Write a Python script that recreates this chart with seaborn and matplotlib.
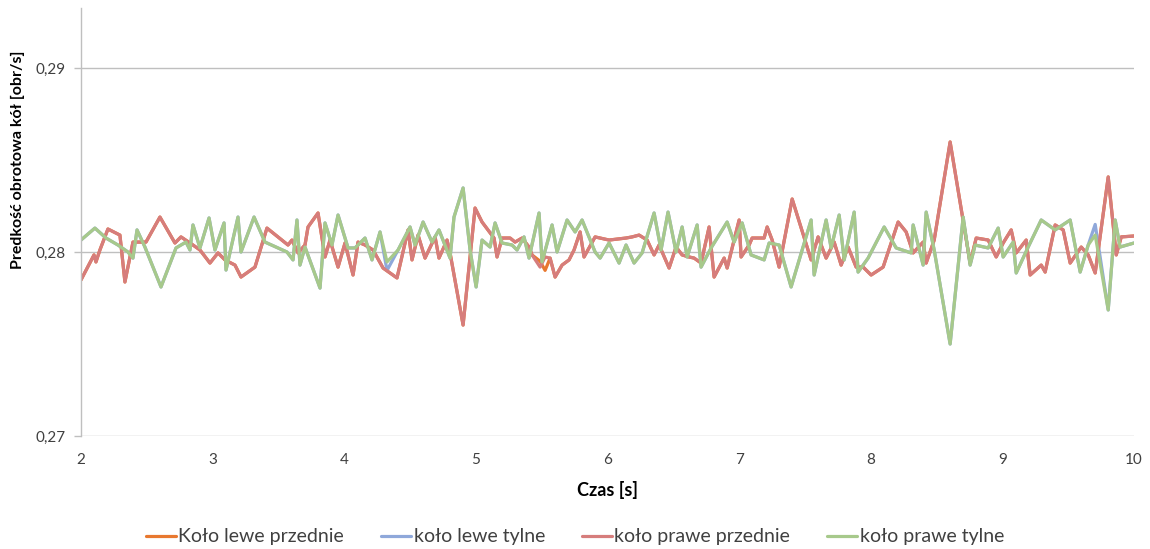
import numpy as np
import pandas as pd
import matplotlib
matplotlib.use("Agg")
import matplotlib.pyplot as plt
from matplotlib.ticker import FuncFormatter, FixedLocator
from matplotlib.lines import Line2D
import seaborn as sns

# Wheel rotational speed [obr/s] against time [s]
czas_przod = [2.000, 2.099, 2.114, 2.144, 2.205, 2.296, 2.334, 2.395, 2.494, 2.600,
              2.714, 2.760, 2.851, 2.904, 2.980, 3.041, 3.094, 3.170, 3.216, 3.322,
              3.413, 3.573, 3.603, 3.649, 3.702, 3.725, 3.801, 3.854, 3.892, 3.953,
              4.006, 4.067, 4.105, 4.158, 4.219, 4.295, 4.401, 4.485, 4.515, 4.561,
              4.614, 4.690, 4.720, 4.781, 4.804, 4.903, 4.994, 5.047, 5.138, 5.161,
              5.199, 5.260, 5.298, 5.351, 5.404, 5.427, 5.488, 5.526, 5.564, 5.602,
              5.655, 5.708, 5.746, 5.792, 5.822, 5.906, 6.012, 6.141, 6.187, 6.240,
              6.301, 6.354, 6.392, 6.468, 6.521, 6.567, 6.620, 6.658, 6.711, 6.772,
              6.810, 6.886, 6.909, 7.000, 7.015, 7.076, 7.099, 7.190, 7.213, 7.251,
              7.304, 7.403, 7.547, 7.600, 7.661, 7.722, 7.775, 7.828, 7.889, 7.942,
              8.003, 8.094, 8.208, 8.269, 8.322, 8.398, 8.421, 8.482, 8.603, 8.755,
              8.801, 8.892, 8.953, 9.006, 9.067, 9.105, 9.181, 9.211, 9.295, 9.325,
              9.401, 9.462, 9.515, 9.599, 9.652, 9.705, 9.804, 9.865, 9.903, 10.000]

prawe_przednie = [0.27848, 0.27984, 0.27946, 0.28011, 0.28125, 0.28092, 0.27837, 0.28054, 0.28054, 0.28190,
                  0.28049, 0.28082, 0.28038, 0.28011, 0.27940, 0.27995, 0.27957, 0.27929, 0.27864, 0.27918,
                  0.28130, 0.28038, 0.28065, 0.27995, 0.28038, 0.28136, 0.28212, 0.27973, 0.28065, 0.27918,
                  0.28049, 0.27875, 0.28054, 0.28038, 0.28011, 0.27913, 0.27859, 0.28120, 0.27957, 0.28092,
                  0.27967, 0.28082, 0.27967, 0.28065, 0.27995, 0.27603, 0.28239, 0.28163, 0.28076, 0.27973,
                  0.28076, 0.28076, 0.28054, 0.28076, 0.28027, 0.27984, 0.27918, 0.27973, 0.27967, 0.27864,
                  0.27929, 0.27957, 0.28011, 0.28109, 0.27973, 0.28082, 0.28065, 0.28076, 0.28082, 0.28092,
                  0.28065, 0.27984, 0.28038, 0.27913, 0.28027, 0.27984, 0.27973, 0.27967, 0.27940, 0.28136,
                  0.27864, 0.27967, 0.27913, 0.28174, 0.27973, 0.28038, 0.28076, 0.28076, 0.28136, 0.28065,
                  0.27918, 0.28288, 0.27957, 0.28082, 0.27967, 0.28054, 0.27929, 0.28027, 0.27918, 0.27918,
                  0.27875, 0.27918, 0.28163, 0.28109, 0.27995, 0.28054, 0.27940, 0.28065, 0.28598, 0.27940,
                  0.28076, 0.28065, 0.27973, 0.28049, 0.28120, 0.27995, 0.28065, 0.27875, 0.27929, 0.27891,
                  0.28147, 0.28120, 0.27940, 0.28027, 0.27984, 0.27886, 0.28408, 0.27984, 0.28082, 0.28087]

lewe_przednie = [0.27848, 0.27984, 0.27946, 0.28011, 0.28125, 0.28092, 0.27837, 0.28054, 0.28054, 0.28190,
                 0.28049, 0.28082, 0.28038, 0.28011, 0.27940, 0.27995, 0.27957, 0.27929, 0.27864, 0.27918,
                 0.28130, 0.28038, 0.28065, 0.27995, 0.28038, 0.28136, 0.28212, 0.27973, 0.28065, 0.27918,
                 0.28049, 0.27875, 0.28054, 0.28038, 0.28011, 0.27913, 0.27859, 0.28120, 0.27957, 0.28092,
                 0.27967, 0.28082, 0.27967, 0.28065, 0.27995, 0.27603, 0.28239, 0.28163, 0.28076, 0.27973,
                 0.28076, 0.28076, 0.28054, 0.28076, 0.28027, 0.27984, 0.27950, 0.27900, 0.27967, 0.27864,
                 0.27929, 0.27957, 0.28011, 0.28109, 0.27973, 0.28082, 0.28065, 0.28076, 0.28082, 0.28092,
                 0.28065, 0.27984, 0.28038, 0.27913, 0.28027, 0.27984, 0.27973, 0.27967, 0.27940, 0.28136,
                 0.27864, 0.27967, 0.27913, 0.28174, 0.27973, 0.28038, 0.28076, 0.28076, 0.28136, 0.28065,
                 0.27918, 0.28288, 0.27957, 0.28082, 0.27967, 0.28054, 0.27929, 0.28027, 0.27918, 0.27918,
                 0.27875, 0.27918, 0.28163, 0.28109, 0.27995, 0.28054, 0.27940, 0.28065, 0.28598, 0.27940,
                 0.28076, 0.28065, 0.27973, 0.28049, 0.28120, 0.27995, 0.28065, 0.27875, 0.27929, 0.27891,
                 0.28147, 0.28120, 0.27940, 0.28027, 0.27984, 0.27886, 0.28408, 0.27984, 0.28082, 0.28087]

czas_tyl = [2.000, 2.106, 2.190, 2.281, 2.357, 2.395, 2.426, 2.486, 2.608, 2.722,
            2.798, 2.828, 2.851, 2.904, 2.973, 3.018, 3.087, 3.102, 3.193, 3.216,
            3.315, 3.398, 3.565, 3.611, 3.641, 3.664, 3.702, 3.816, 3.854, 3.907,
            3.953, 4.029, 4.082, 4.158, 4.211, 4.272, 4.325, 4.409, 4.500, 4.538,
            4.599, 4.667, 4.720, 4.804, 4.834, 4.903, 4.956, 5.002, 5.047, 5.108,
            5.146, 5.199, 5.275, 5.313, 5.366, 5.404, 5.480, 5.503, 5.579, 5.617,
            5.693, 5.754, 5.807, 5.906, 5.944, 6.012, 6.088, 6.141, 6.202, 6.263,
            6.354, 6.407, 6.460, 6.521, 6.567, 6.605, 6.681, 6.711, 6.787, 6.909,
            6.962, 7.023, 7.091, 7.190, 7.228, 7.304, 7.395, 7.547, 7.570, 7.661,
            7.699, 7.760, 7.798, 7.874, 7.904, 7.980, 8.102, 8.193, 8.307, 8.322,
            8.398, 8.421, 8.482, 8.603, 8.702, 8.755, 8.793, 8.892, 8.968, 9.006,
            9.082, 9.105, 9.196, 9.295, 9.401, 9.515, 9.591, 9.652, 9.705, 9.804,
            9.857, 9.894, 10.000]

prawe_tylne = [0.28065, 0.28130, 0.28076, 0.28038, 0.28000, 0.27967, 0.28120, 0.28027, 0.27810, 0.28022,
               0.28054, 0.28011, 0.28147, 0.28022, 0.28185, 0.28011, 0.28158, 0.27902, 0.28190, 0.28000,
               0.28190, 0.28054, 0.28000, 0.27957, 0.28174, 0.27929, 0.28027, 0.27804, 0.28158, 0.28038,
               0.28201, 0.28022, 0.28022, 0.28076, 0.27957, 0.28109, 0.27946, 0.28011, 0.28136, 0.28038,
               0.28163, 0.28054, 0.28120, 0.27967, 0.28190, 0.28348, 0.28011, 0.27810, 0.28065, 0.28027,
               0.28158, 0.28049, 0.28038, 0.28011, 0.28082, 0.27967, 0.28212, 0.27946, 0.28147, 0.28000,
               0.28174, 0.28109, 0.28174, 0.28000, 0.27967, 0.28049, 0.27940, 0.28038, 0.27940, 0.27995,
               0.28212, 0.28011, 0.28217, 0.28000, 0.28136, 0.27973, 0.28147, 0.27918, 0.28022, 0.28163,
               0.28054, 0.28158, 0.27984, 0.27957, 0.28049, 0.28038, 0.27810, 0.28174, 0.27875, 0.28174,
               0.28022, 0.28201, 0.27957, 0.28217, 0.27891, 0.27967, 0.28136, 0.28022, 0.27995, 0.28147,
               0.27929, 0.28217, 0.28011, 0.27500, 0.28190, 0.27929, 0.28038, 0.28022, 0.28130, 0.27973,
               0.28054, 0.27886, 0.28027, 0.28174, 0.28120, 0.28174, 0.27891, 0.28038, 0.28092, 0.27685,
               0.28174, 0.28027, 0.28049]

lewe_tylne = [0.28065, 0.28130, 0.28076, 0.28038, 0.28000, 0.27967, 0.28120, 0.28027, 0.27810, 0.28022,
              0.28054, 0.28011, 0.28147, 0.28022, 0.28185, 0.28011, 0.28158, 0.27902, 0.28190, 0.28000,
              0.28190, 0.28054, 0.28000, 0.27957, 0.28174, 0.27929, 0.28027, 0.27804, 0.28158, 0.28038,
              0.28201, 0.28022, 0.28022, 0.28076, 0.27957, 0.28109, 0.27900, 0.28011, 0.28136, 0.28038,
              0.28163, 0.28054, 0.28120, 0.27967, 0.28190, 0.28348, 0.28011, 0.27810, 0.28065, 0.28027,
              0.28158, 0.28049, 0.28038, 0.28011, 0.28082, 0.27967, 0.28212, 0.27946, 0.28147, 0.28000,
              0.28174, 0.28109, 0.28174, 0.28000, 0.27967, 0.28049, 0.27940, 0.28038, 0.27940, 0.27995,
              0.28212, 0.28011, 0.28217, 0.28000, 0.28136, 0.27973, 0.28147, 0.27918, 0.28022, 0.28163,
              0.28054, 0.28158, 0.27984, 0.27957, 0.28049, 0.28038, 0.27810, 0.28174, 0.27875, 0.28174,
              0.28022, 0.28201, 0.27957, 0.28217, 0.27891, 0.27967, 0.28136, 0.28022, 0.27995, 0.28147,
              0.27929, 0.28217, 0.28011, 0.27500, 0.28190, 0.27929, 0.28038, 0.28022, 0.28130, 0.27973,
              0.28054, 0.27886, 0.28027, 0.28174, 0.28120, 0.28174, 0.27891, 0.28038, 0.28150, 0.27685,
              0.28174, 0.28027, 0.28049]

serie = ["Koło lewe przednie", "koło lewe tylne", "koło prawe przednie", "koło prawe tylne"]
kolory = ["#E8782F", "#8FA8DA", "#D67D7C", "#A7C98B"]
x_ticks = [2, 3, 4, 5, 6, 7, 8, 9, 10]
y_ticks = [0.27, 0.28, 0.29]

frames = []
for name, t, v in [(serie[0], czas_przod, lewe_przednie),
                   (serie[1], czas_tyl, lewe_tylne),
                   (serie[2], czas_przod, prawe_przednie),
                   (serie[3], czas_tyl, prawe_tylne)]:
    frames.append(pd.DataFrame({"czas": t, "v": v, "seria": name}))
df = pd.concat(frames, ignore_index=True)

sns.set_theme(style="white")
plt.rcParams["font.family"] = ["Lato", "DejaVu Sans"]

fig = plt.figure(figsize=(11.5, 5.49), dpi=100)
ax = fig.add_axes([0.0704, 0.2058, 0.9157, 0.7796])

for name, col in zip(serie, kolory):
    sns.lineplot(data=df[df["seria"] == name], x="czas", y="v", color=col,
                 linewidth=2.3, estimator=None, sort=False, ax=ax, legend=False)

ax.set_xlim(2, 10)
ax.set_ylim(0.27, 0.29326)
ax.xaxis.set_major_locator(FixedLocator(x_ticks))
ax.yaxis.set_major_locator(FixedLocator(y_ticks))
ax.xaxis.set_major_formatter(FuncFormatter(lambda v, p: f"{v:g}"))
ax.yaxis.set_major_formatter(FuncFormatter(lambda v, p: f"{v:.2f}".replace(".", ",")))

ax.grid(axis="y", color="#BFBFBF", linewidth=1.0)
ax.grid(axis="x", visible=False)
ax.set_axisbelow(True)
for s in ["top", "right", "bottom"]:
    ax.spines[s].set_visible(False)
ax.spines["left"].set_color("#BFBFBF")
ax.spines["left"].set_linewidth(1.0)

ax.tick_params(axis="y", which="major", length=5, width=1.0, color="#BFBFBF",
               direction="out", labelsize=11, labelcolor="#404040", pad=6, left=True)
ax.tick_params(axis="x", which="major", length=0, labelsize=11, labelcolor="#404040", pad=12)

ax.set_xlabel("Czas [s]", fontsize=13, fontweight="bold", color="#000000", labelpad=10)
ax.set_ylabel("Predkość obrotowa kół [obr/s]", fontsize=11.5, fontweight="bold",
              color="#000000")
ax.yaxis.set_label_coords(-0.053, 0.645)

handles = [Line2D([0], [0], color=c, linewidth=2.3) for c in kolory]
fig.legend(handles, serie, loc="center", bbox_to_anchor=(0.5, 0.022), ncol=4,
           frameon=False, fontsize=14, handlelength=1.55, handletextpad=0.12,
           columnspacing=1.9, labelcolor="#404040")

fig.savefig("out.png", dpi=100)
